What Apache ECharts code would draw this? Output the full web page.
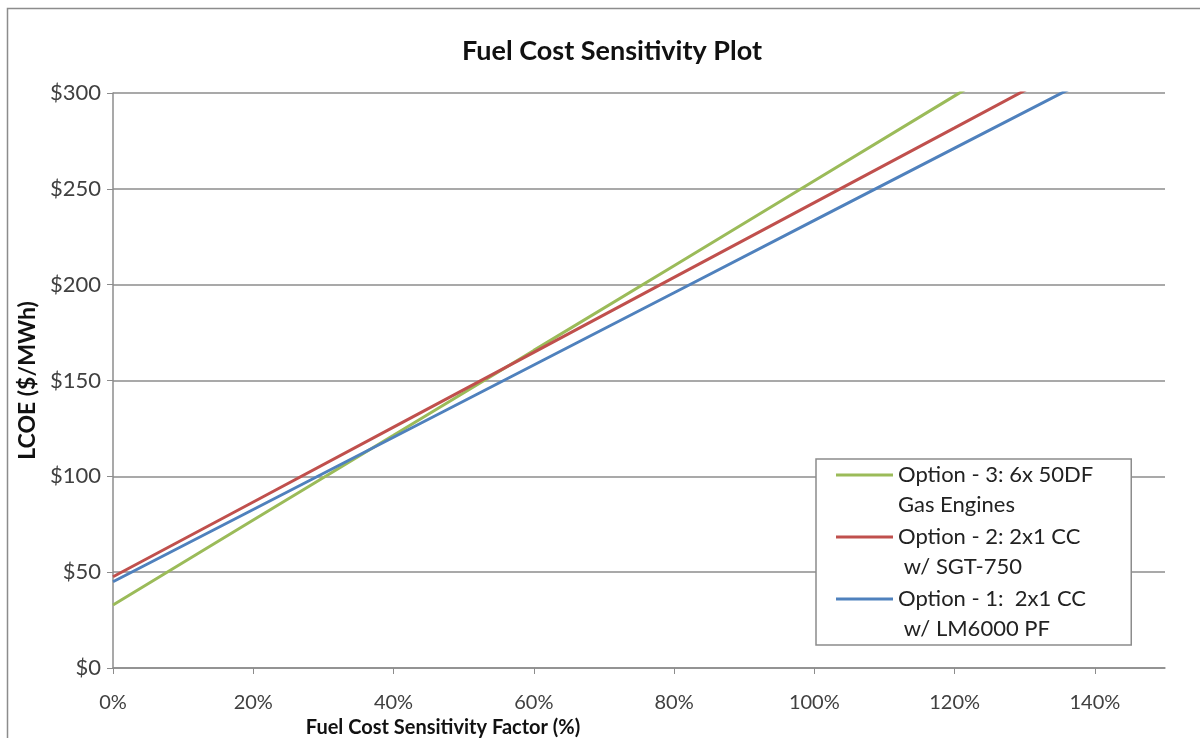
<!DOCTYPE html>
<html>
<head>
<meta charset="utf-8">
<title>Fuel Cost Sensitivity Plot</title>
<script src="https://cdn.jsdelivr.net/npm/echarts@6/dist/echarts.min.js"></script>
<style>
  html, body { margin: 0; padding: 0; background: #fff; }
  #chart { width: 1200px; height: 738px; }
</style>
</head>
<body>
<div id="chart"></div>
<script>
// Fuel cost sensitivity factor (%) at which each option was evaluated
const factorPct = [0, 20, 40, 60, 80, 100, 120, 140];

// Levelized cost of energy ($/MWh) per option
const option3Lcoe = [32.9, 77.2, 121.4, 165.7, 209.9, 254.2, 298.5, 342.7];
const option2Lcoe = [47.6, 86.6, 125.7, 164.7, 203.8, 242.8, 281.8, 320.9];
const option1Lcoe = [45.0, 82.7, 120.4, 158.1, 195.8, 233.5, 271.2, 308.9];

const seriesNames = [
  'Option - 3: 6x 50DF\nGas Engines',
  'Option - 2: 2x1 CC\n w/ SGT-750',
  'Option - 1:  2x1 CC\n w/ LM6000 PF'
];
const seriesColors = ['#9BBB59', '#C0504D', '#4F81BD'];

const xTickValues = [0, 20, 40, 60, 80, 100, 120, 140];

const FONT = 'Lato, "Open Sans", sans-serif';

function pairs(xs, ys) {
  return xs.map((x, i) => [x, ys[i]]);
}

const chart = echarts.init(document.getElementById('chart'), null, { renderer: 'canvas' });

const lineSeries = [option3Lcoe, option2Lcoe, option1Lcoe].map((vals, i) => ({
  name: seriesNames[i],
  type: 'line',
  data: pairs(factorPct, vals),
  showSymbol: false,
  symbol: 'none',
  clip: true,
  lineStyle: { color: seriesColors[i], width: 3 },
  itemStyle: { color: seriesColors[i] },
  emphasis: { disabled: true }
}));

chart.setOption({
  animation: false,
  backgroundColor: '#ffffff',
  textStyle: { fontFamily: FONT },
  graphic: [{
    type: 'rect',
    shape: { x: 7.5, y: 8.5, width: 1300, height: 800 },
    style: { fill: 'none', stroke: '#8c8c8c', lineWidth: 1.5 },
    silent: true,
    z: -1
  }],
  title: {
    text: 'Fuel Cost Sensitivity Plot',
    left: 607,
    top: 33,
    textAlign: 'center',
    textStyle: { fontFamily: FONT, fontSize: 27, fontWeight: 'bold', color: '#111' }
  },
  grid: {
    left: 113, right: 35, top: 93, bottom: 70,
    containLabel: false,
    outerBoundsMode: 'none'
  },
  xAxis: {
    type: 'value',
    min: 0,
    max: 150,
    interval: 20,
    name: 'Fuel Cost Sensitivity Factor (%)',
    nameLocation: 'middle',
    nameGap: 43,
    nameTextStyle: {
      fontFamily: FONT, fontSize: 20, fontWeight: 'bold', color: '#111',
      padding: [0, 392, 0, 0]
    },
    axisLine: { show: true, onZero: false, lineStyle: { color: '#8c8c8c', width: 1.5 } },
    axisTick: { show: true, length: 6, customValues: xTickValues, lineStyle: { color: '#8c8c8c' } },
    axisLabel: {
      customValues: xTickValues,
      formatter: v => v + '%',
      margin: 25,
      fontFamily: FONT, fontSize: 20, color: '#404040'
    },
    splitLine: { show: false }
  },
  yAxis: {
    type: 'value',
    min: 0,
    max: 300,
    interval: 50,
    name: 'LCOE ($/MWh)',
    nameLocation: 'middle',
    nameGap: 71,
    nameRotate: 90,
    nameTextStyle: { fontFamily: FONT, fontSize: 23, fontWeight: 'bold', color: '#111' },
    axisLine: { show: true, lineStyle: { color: '#8c8c8c', width: 1.5 } },
    axisTick: { show: true, length: 6, lineStyle: { color: '#8c8c8c' } },
    axisLabel: {
      formatter: v => '$' + v,
      margin: 12,
      fontFamily: FONT, fontSize: 22, color: '#404040'
    },
    splitLine: { show: true, lineStyle: { color: '#8c8c8c', width: 1.5 } }
  },
  legend: {
    data: seriesNames,
    orient: 'vertical',
    left: 816,
    top: 459,
    padding: [1, 38, 1, 20],
    itemGap: 2,
    itemWidth: 57,
    itemHeight: 60,
    icon: 'path://M0,0L0,0M0,13.5L57,13.5L57,16.5L0,16.5ZM57,60L57,60',
    itemStyle: { borderWidth: 0 },
    backgroundColor: '#ffffff',
    borderColor: '#8c8c8c',
    borderWidth: 1.5,
    borderRadius: 0,
    selectedMode: false,
    textStyle: { fontFamily: FONT, fontSize: 22, lineHeight: 30, color: '#222' }
  },
  series: lineSeries
});
</script>
</body>
</html>
